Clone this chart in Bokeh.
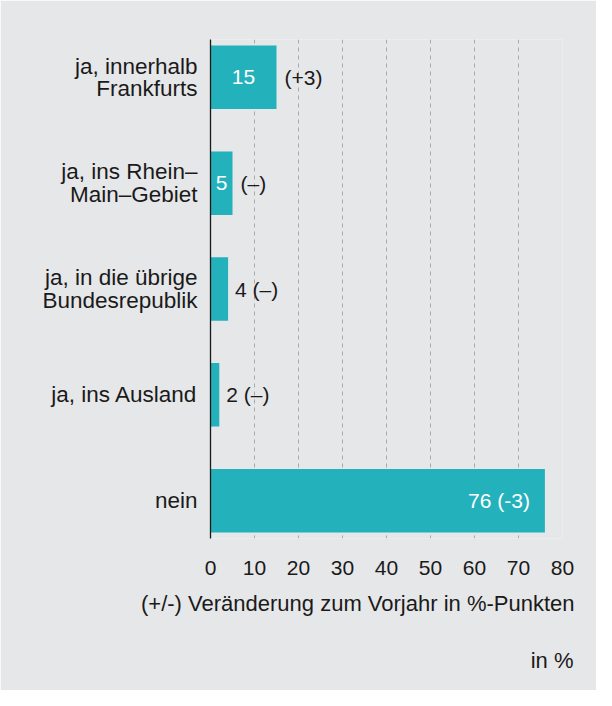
from bokeh.plotting import figure
from bokeh.models import Range1d, FixedTicker, ColumnDataSource, Title
from bokeh.core.properties import value
from bokeh.embed import file_html
from bokeh.resources import INLINE

# ---- data ----
categories = [
    "ja, innerhalb\nFrankfurts",
    "ja, ins Rhein–\nMain–Gebiet",
    "ja, in die übrige\nBundesrepublik",
    "ja, ins Ausland",
    "nein",
]
shares = [15, 5, 4, 2, 76]
changes = ["+3", "–", "–", "–", "-3"]
x_ticks = [0, 10, 20, 30, 40, 50, 60, 70, 80]
x_axis_title = "(+/-) Veränderung zum Vorjahr in %-Punkten"
unit_note = "in %"

# ---- style ----
FONT = "Liberation Sans"
BG = "#e6e7e9"
BAR = "#23b1bc"
DARK = "#1a1a1a"

pos = list(range(len(categories)))

p = figure(
    width=596, height=690,
    x_range=Range1d(0, 80), y_range=Range1d(4.357, -0.357),
    output_backend="svg", toolbar_location=None,
    min_border_left=210, min_border_right=34, min_border_top=39, min_border_bottom=152,
)
p.background_fill_color = BG
p.border_fill_color = BG
p.outline_line_color = None

src = ColumnDataSource(dict(y=pos, v=shares))
p.hbar(y="y", right="v", left=0, height=0.6, source=src, color=BAR, line_color=None)

# bar labels
in_full = dict(x=[], y=[], t=[])
in_val = dict(x=[], y=[], t=[])
out_chg = dict(x=[], y=[], t=[])
out_full = dict(x=[], y=[], t=[])
for i, (v, c) in enumerate(zip(shares, changes)):
    full = f"{v} ({c})"
    if v >= 50:
        in_full["x"].append(v); in_full["y"].append(i); in_full["t"].append(full)
    elif v >= 5:
        in_val["x"].append(v / 2); in_val["y"].append(i); in_val["t"].append(str(v))
        out_chg["x"].append(v); out_chg["y"].append(i); out_chg["t"].append(f"({c})")
    else:
        out_full["x"].append(v); out_full["y"].append(i); out_full["t"].append(full)

common = dict(text_font=value(FONT), text_font_size="21px", text_baseline="middle")
p.text(x="x", y="y", text="t", source=ColumnDataSource(in_full), text_align="right",
       x_offset=-15, text_color="white", **common)
p.text(x="x", y="y", text="t", source=ColumnDataSource(in_val), text_align="center",
       text_color="white", **common)
p.text(x="x", y="y", text="t", source=ColumnDataSource(out_chg), text_align="left",
       x_offset=8, text_color=DARK, **common)
p.text(x="x", y="y", text="t", source=ColumnDataSource(out_full), text_align="left",
       x_offset=7, text_color=DARK, **common)

# x axis
xa = p.xaxis[0]
xa.ticker = FixedTicker(ticks=x_ticks)
xa.axis_line_color = None
xa.major_tick_line_color = None
xa.minor_tick_line_color = None
xa.major_label_standoff = 16
xa.major_label_text_font = FONT
xa.major_label_text_font_size = "21px"
xa.major_label_text_color = DARK

# y axis with category labels
ya = p.yaxis[0]
ya.ticker = FixedTicker(ticks=pos)
ya.major_label_overrides = {i: c for i, c in enumerate(categories)}
ya.axis_line_color = "#1a1a1a"
ya.axis_line_width = 1.3
ya.major_tick_line_color = None
ya.minor_tick_line_color = None
ya.major_label_standoff = 7
ya.major_label_text_font = FONT
ya.major_label_text_font_size = "22.5px"
ya.major_label_text_line_height = 0.9
ya.major_label_text_color = DARK

p.xgrid.ticker = FixedTicker(ticks=x_ticks[1:])
p.xgrid.grid_line_color = "#a9a9a9"
p.xgrid.grid_line_dash = "4 4"
p.xgrid.grid_line_width = 1
p.ygrid.grid_line_color = None

t1 = Title(text=x_axis_title, align="right", offset=-12, standoff=23,
           text_font=FONT, text_font_size="22px", text_font_style="normal", text_color=DARK)
t2 = Title(text=unit_note, align="right", offset=-11, standoff=36,
           text_font=FONT, text_font_size="22px", text_font_style="normal", text_color=DARK)
p.add_layout(t1, "below")
p.add_layout(t2, "below")

open("out.html", "w").write(file_html(p, INLINE))
